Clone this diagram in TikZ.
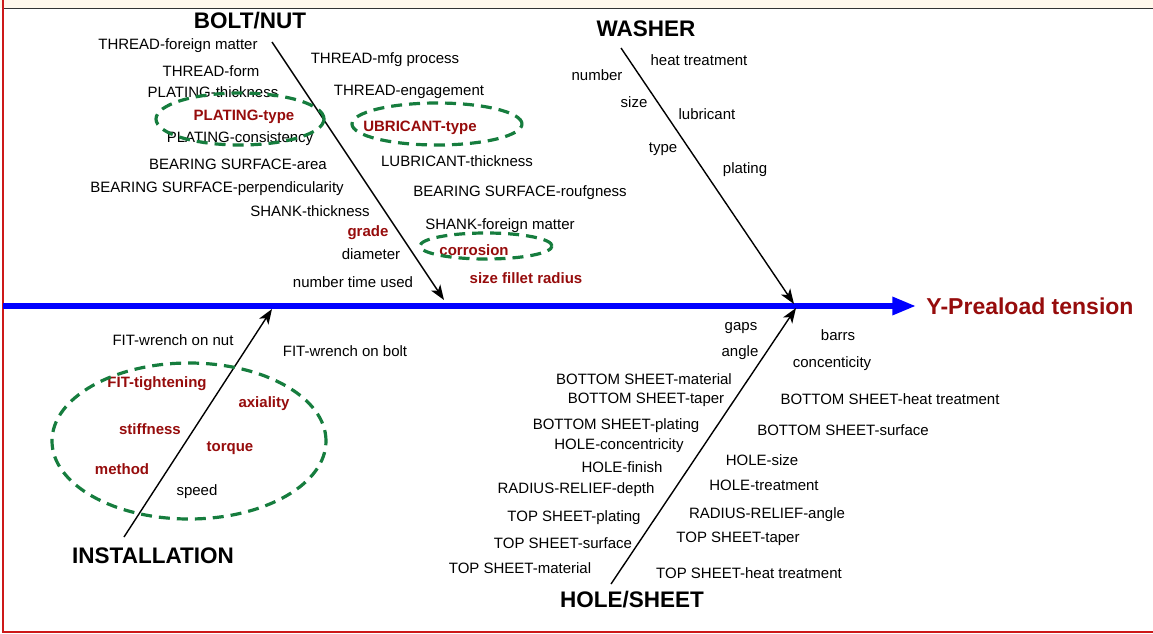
\documentclass[tikz,border=0pt]{standalone}
\usepackage{fontspec}
\setmainfont{Liberation Sans}
\usepackage{tikz}
\usetikzlibrary{shapes.geometric, positioning, arrows.meta}
\definecolor{causered}{RGB}{150,12,12}
\definecolor{ringgreen}{RGB}{22,125,62}
\definecolor{framered}{RGB}{205,25,25}
\definecolor{stripbeige}{RGB}{255,248,236}
\tikzset{
  factor/.style={text=black, yshift=-2pt},
  keyfactor/.style={text=causered, yshift=-2pt, font=\fontsize{15}{18}\selectfont\bfseries},
  category/.style={font=\fontsize{22.5}{26}\selectfont\bfseries},
  ring/.style={ellipse, draw=ringgreen, line width=3.2pt, dash pattern=on 11pt off 7pt}
}

\begin{document}
\begin{tikzpicture}[
            x=1pt, y=-1pt,
            every node/.style={font=\fontsize{15}{18}\selectfont, inner sep=1pt},
            effect/.style={text=causered, font=\fontsize{23}{27}\selectfont\bfseries},
            bone/.style={line width=1.4pt, -{Stealth[length=15pt, width=11pt, inset=4pt]}},
            spine/.style={blue, line width=6pt, -{Triangle[length=24pt, width=17pt]}}
        ]
            \useasboundingbox (0,0) rectangle (1153,634);

            % Marco y franja superior
            \fill [stripbeige] (0,0) rectangle (1153,8);
            \draw [black!80, line width=1.2pt] (3,8.5) -- (1153,8.5);
            \draw [framered, line width=2pt] (3,0) -- (3,632) -- (1153,632);

            % Efecto y espina principal
            \node (effect) [effect] at (1030,306) {Y-Preaload tension};
            \coordinate (spineStart) at (3,306);
            \draw [spine, shorten >=9pt] (spineStart) -- (effect);

            % Categorias
            \node (boltNut) [category] at (250,21) {BOLT/NUT};
            \node (washer) [category] at (646,29) {WASHER};
            \node (installation) [category] at (153,556) {INSTALLATION};
            \node (holeSheet) [category] at (632,600) {HOLE/SHEET};

            % Espinas de cada categoria
            \coordinate (boltTail) at (272,42);
            \coordinate (boltTip) at (444,300);
            \coordinate (washerTail) at (621,48);
            \coordinate (washerTip) at (794,304);
            \coordinate (installTail) at (124,537);
            \coordinate (installTip) at (272,309);
            \coordinate (holeTail) at (611,584);
            \coordinate (holeTip) at (796,308);
            \draw [bone] (boltTail) -- (boltTip);
            \draw [bone] (washerTail) -- (washerTip);
            \draw [bone] (installTail) -- (installTip);
            \draw [bone] (holeTail) -- (holeTip);

            % Causas BOLT/NUT
            \node (thrForeign) [factor] at (178,44) {THREAD-foreign matter};
            \node (thrForm) [factor] at (211,69) {THREAD-form};
            \node (platThick) [factor] at (213,90) {PLATING-thickness};
            \node (platType) [keyfactor] at (244,115) {PLATING-type};
            \node (platCons) [factor] at (240,137) {PLATING-consistency};
            \node (bearArea) [factor] at (238,162) {BEARING SURFACE-area};
            \node (bearPerp) [factor] at (217,187) {BEARING SURFACE-perpendicularity};
            \node (shankThick) [factor] at (310,209) {SHANK-thickness};
            \node (grade) [keyfactor] at (368,231) {grade};
            \node (diameter) [factor] at (371,252) {diameter};
            \node (timesUsed) [factor] at (353,280) {number time used};
            \node (thrMfg) [factor] at (385,58) {THREAD-mfg process};
            \node (thrEngage) [factor] at (409,90) {THREAD-engagement};
            \node (lubType) [keyfactor] at (420,126) {UBRICANT-type};
            \node (lubThick) [factor] at (457,159) {LUBRICANT-thickness};
            \node (bearRough) [factor] at (520,191) {BEARING SURFACE-roufgness};
            \node (shankForeign) [factor] at (500,224) {SHANK-foreign matter};
            \node (corrosion) [keyfactor] at (474,248) {corrosion};
            \node (filletRadius) [keyfactor] at (526,276) {size fillet radius};

            % Causas WASHER
            \node (wHeat) [factor] at (699,58) {heat treatment};
            \node (wNumber) [factor] at (597,73) {number};
            \node (wSize) [factor] at (634,100) {size};
            \node (wLub) [factor] at (707,112) {lubricant};
            \node (wType) [factor] at (663,147) {type};
            \node (wPlating) [factor] at (745,168) {plating};

            % Causas INSTALLATION
            \node (fitNut) [factor] at (173,338) {FIT-wrench on nut};
            \node (fitBolt) [factor] at (345,349) {FIT-wrench on bolt};
            \node (fitTight) [keyfactor] at (157,382) {FIT-tightening};
            \node (axiality) [keyfactor] at (264,402) {axiality};
            \node (stiffness) [keyfactor] at (150,427) {stiffness};
            \node (torque) [keyfactor] at (230,446) {torque};
            \node (method) [keyfactor] at (122,467) {method};
            \node (speed) [factor] at (197,490) {speed};

            % Causas HOLE/SHEET
            \node (gaps) [factor] at (741,326) {gaps};
            \node (angle) [factor] at (740,351) {angle};
            \node (bsMaterial) [factor] at (644,377) {BOTTOM SHEET-material};
            \node (bsTaper) [factor] at (646,398) {BOTTOM SHEET-taper};
            \node (bsPlating) [factor] at (616,424) {BOTTOM SHEET-plating};
            \node (holeConc) [factor] at (619,444) {HOLE-concentricity};
            \node (holeFinish) [factor] at (622,465) {HOLE-finish};
            \node (rrDepth) [factor] at (576,488) {RADIUS-RELIEF-depth};
            \node (tsPlating) [factor] at (574,516) {TOP SHEET-plating};
            \node (tsSurface) [factor] at (563,541) {TOP SHEET-surface};
            \node (tsMaterial) [factor] at (520,566) {TOP SHEET-material};
            \node (barrs) [factor] at (838,333) {barrs};
            \node (concent) [factor] at (832,362) {concenticity};
            \node (bsHeat) [factor] at (890,397) {BOTTOM SHEET-heat treatment};
            \node (bsSurface) [factor] at (843,428) {BOTTOM SHEET-surface};
            \node (holeSize) [factor] at (762,458) {HOLE-size};
            \node (holeTreat) [factor] at (764,483) {HOLE-treatment};
            \node (rrAngle) [factor] at (767,513) {RADIUS-RELIEF-angle};
            \node (tsTaper) [factor] at (738,537) {TOP SHEET-taper};
            \node (tsHeat) [factor] at (749,571) {TOP SHEET-heat treatment};

            % Causas principales marcadas
            \node (ringPlating) [ring, minimum width=168pt, minimum height=52pt] at (240,119) {};
            \node (ringLub) [ring, minimum width=170pt, minimum height=42pt] at (437,124) {};
            \node (ringCorr) [ring, minimum width=132pt, minimum height=26pt] at (486,246) {};
            \node (ringInstall) [ring, minimum width=274pt, minimum height=156pt] at (189,441) {};

        \end{tikzpicture}
\end{document}
